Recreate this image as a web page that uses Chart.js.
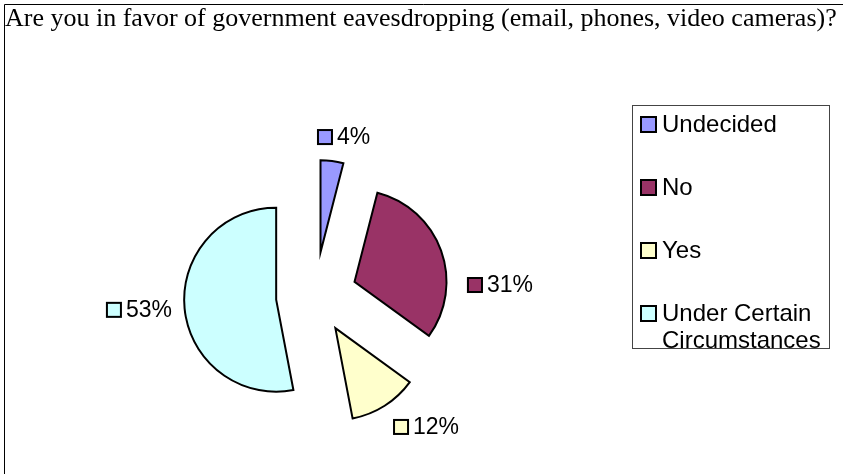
<!DOCTYPE html>
<html>
<head>
<meta charset="utf-8">
<script src="https://cdn.jsdelivr.net/npm/chart.js@4.4.1/dist/chart.umd.min.js"></script>
<style>
  body { margin: 0; background: #fff; }
  canvas { display: block; }
</style>
</head>
<body>
<canvas id="chart" width="843" height="474"></canvas>
<script>
let question = "Are you in favor of government eavesdropping (email, phones, video cameras)?";
let answers = ["Undecided", "No", "Yes", "Under Certain Circumstances"];
let shares = [4, 31, 12, 53];

let colors = ["#9999FF", "#993366", "#FFFFCC", "#CCFFFF"];
// how far each slice is pulled out of the pie, px
let explode = [44, 42, 38, 39];
// label spot for each slice: [degrees clockwise from 12 o'clock, px from pie centre]
let labelSpot = [[10.2, 161.5], [86.6, 185.3], [139.7, 171.7], [265.5, 176.6]];

const sansFont = "'Liberation Sans', Arial, sans-serif";

function swatch(ctx, x, y, size, fill) {
    ctx.fillStyle = fill;
    ctx.fillRect(x, y, size, size);
    ctx.lineWidth = 2;
    ctx.strokeStyle = "#000";
    ctx.strokeRect(x + 1, y + 1, size - 2, size - 2);
}

function wrap(ctx, text, maxW) {
    let lines = [];
    let cur = "";
    for (let w of text.split(" ")) {
        let t = cur ? cur + " " + w : w;
        if (cur && ctx.measureText(t).width > maxW) {
            lines.push(cur);
            cur = w;
        } else {
            cur = t;
        }
    }
    lines.push(cur);
    return lines;
}

// draws every slice shifted out along its middle angle
let explodePlugin = {
    id: "explode",
    beforeDatasetDraw(chart, args) {
        let ctx = chart.ctx;
        args.meta.data.forEach((arc, i) => {
            let mid = (arc.startAngle + arc.endAngle) / 2;
            ctx.save();
            ctx.translate(Math.cos(mid) * explode[i], Math.sin(mid) * explode[i]);
            arc.draw(ctx);
            ctx.restore();
        });
        return false;
    }
};

let framePlugin = {
    id: "frame",
    beforeDraw(chart) {
        let ctx = chart.ctx;
        ctx.save();
        ctx.strokeStyle = "#000";
        ctx.lineWidth = 1;
        ctx.beginPath();
        ctx.moveTo(843, 4.5);
        ctx.lineTo(4.5, 4.5);
        ctx.lineTo(4.5, 474);
        ctx.stroke();

        ctx.fillStyle = "#000";
        ctx.font = "26px 'Liberation Serif', 'Times New Roman', serif";
        ctx.textBaseline = "alphabetic";
        ctx.fillText(question, 5, 26);
        ctx.restore();
    },
    afterDraw(chart) {
        let ctx = chart.ctx;
        let arcs = chart.getDatasetMeta(0).data;
        ctx.save();

        // percentage labels
        ctx.font = "23px " + sansFont;
        ctx.textBaseline = "middle";
        arcs.forEach((arc, i) => {
            let a = (labelSpot[i][0] - 90) * Math.PI / 180;
            let cx = arc.x + Math.cos(a) * labelSpot[i][1];
            let cy = arc.y + Math.sin(a) * labelSpot[i][1];
            let txt = shares[i] + "%";
            let w = 16 + 4 + ctx.measureText(txt).width;
            let x = cx - w / 2;
            swatch(ctx, x, cy - 8, 16, colors[i]);
            ctx.fillStyle = "#000";
            ctx.fillText(txt, x + 20, cy + 1);
        });

        // legend
        let box = { x: 632.5, y: 105.5, w: 197, h: 243 };
        ctx.strokeStyle = "#444";
        ctx.lineWidth = 1;
        ctx.strokeRect(box.x, box.y, box.w, box.h);
        ctx.font = "24px " + sansFont;
        answers.forEach((name, i) => {
            let y = 124 + i * 63;
            swatch(ctx, 640, y - 8, 17, colors[i]);
            ctx.fillStyle = "#000";
            wrap(ctx, name, 160).forEach((line, j) => {
                ctx.fillText(line, 662, y + 1 + j * 27);
            });
        });
        ctx.restore();
    }
};

new Chart(document.getElementById("chart"), {
    type: "pie",
    data: {
        labels: answers,
        datasets: [{
            data: shares,
            backgroundColor: colors,
            borderColor: "#000",
            borderWidth: 2,
            borderJoinStyle: "miter",
            hoverOffset: 0
        }]
    },
    options: {
        responsive: false,
        animation: false,
        events: [],
        radius: 92,
        layout: { padding: { left: 0, right: 213, top: 130, bottom: 12 } },
        plugins: {
            legend: { display: false },
            title: { display: false },
            tooltip: { enabled: false }
        }
    },
    plugins: [explodePlugin, framePlugin]
});
</script>
</body>
</html>
